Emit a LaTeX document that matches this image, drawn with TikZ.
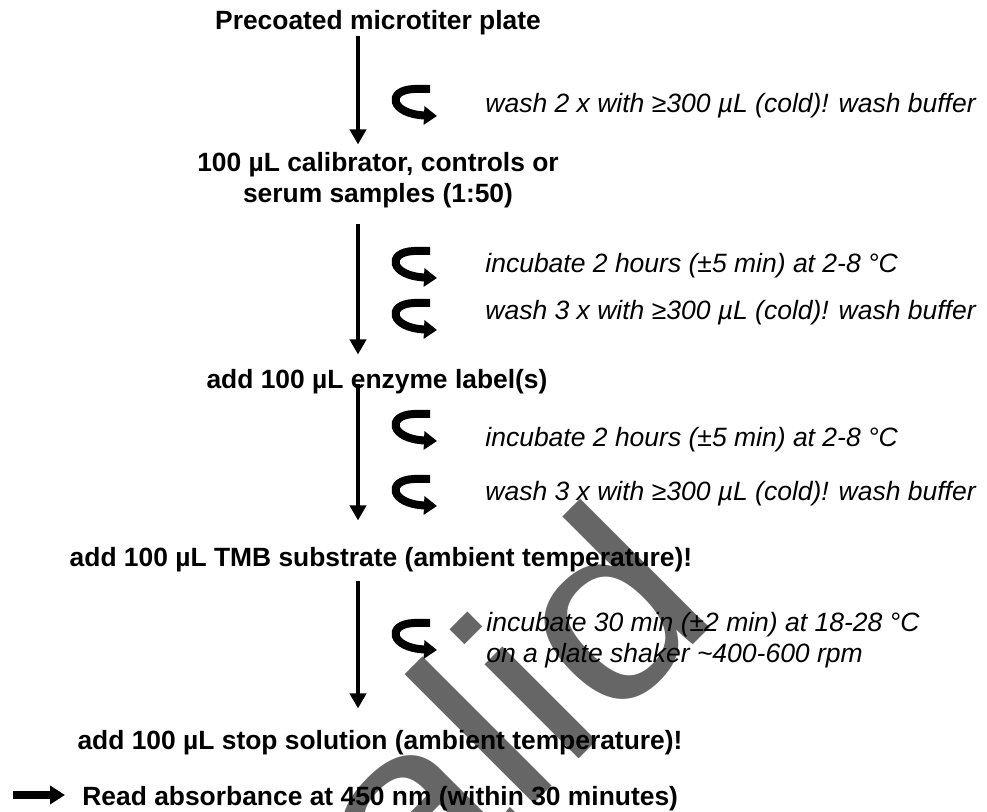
\documentclass[tikz,border=0pt]{standalone}
\usepackage{fontspec}
\setmainfont{Liberation Sans}
\newfontfamily\wmfont[FakeStretch=1.14]{Liberation Sans}
\usepackage{tikz}
\usetikzlibrary{arrows.meta}
\definecolor{wmgray}{HTML}{666666}

\begin{document}
\begin{tikzpicture}[x=0.5pt,y=-0.5pt,
		rotarrow/.pic={\draw[line width=4pt,-{Triangle[length=6.5pt,width=9pt]}] (14,-14) -- (-2,-14) .. controls (-30,-13) and (-26,11) .. (21,13);}]
	\useasboundingbox (0,0) rectangle (987,812);
	\clip (0,0) rectangle (987,812);

	\node[anchor=base west,rotate=45,inner sep=0pt,text=wmgray,font=\wmfont\fontsize{126}{126}\selectfont] (invalid) at (136.6,1201.6) {Invalid};

	\begin{scope}[every node/.style={font=\bfseries\fontsize{13.2}{15.5}\selectfont,inner sep=0pt,anchor=base,align=center}]
		\node (plate) at (378,30) {Precoated microtiter plate};
		\node (sample) at (378,203) {100 µL calibrator, controls or\\serum samples (1:50)};
		\node (enzyme) at (377,389) {add 100 µL enzyme label(s)};
		\node (tmb) at (381,567) {add 100 µL TMB substrate (ambient temperature)!};
		\node (stop) at (380,750) {add 100 µL stop solution (ambient temperature)!};
		\node[anchor=base west] (read) at (82,806) {Read absorbance at 450 nm (within 30 minutes)};
	\end{scope}

	\begin{scope}[every node/.style={font=\itshape\fontsize{13.25}{15.5}\selectfont,inner sep=0pt,anchor=base west,align=left}]
		\node (wash1) at (485,113) {wash 2 x with ≥300 µL (cold)! wash buffer};
		\node (incub1) at (485,273) {incubate 2 hours (±5 min) at 2-8 °C};
		\node (wash2) at (485,320) {wash 3 x with ≥300 µL (cold)! wash buffer};
		\node (incub2) at (485,447) {incubate 2 hours (±5 min) at 2-8 °C};
		\node (wash3) at (485,501) {wash 3 x with ≥300 µL (cold)! wash buffer};
		\node (incub3) at (486,663) {incubate 30 min (±2 min) at 18-28 °C\\on a plate shaker \textasciitilde400-600 rpm};
	\end{scope}

	\pic at (416,103) {rotarrow};
	\pic at (416,265) {rotarrow};
	\pic at (416,317) {rotarrow};
	\pic at (416,428) {rotarrow};
	\pic at (416,493) {rotarrow};
	\pic at (416,637) {rotarrow};

	\coordinate (axis) at (358,0);
	\coordinate (readstart) at (13,795);
	\begin{scope}[flow/.style={line width=2pt,-{Triangle[length=7.5pt,width=8pt]}}]
		\path [flow] (plate.south -| axis) edge[shorten >=4pt] (sample.north -| axis);
		\path [flow] (sample.south -| axis) edge[shorten <=7.75pt,shorten >=7.5pt] (enzyme.north -| axis);
		\path [flow] (enzyme.south -| axis) edge[shorten <=-5.25pt,shorten >=13.5pt] (tmb.north -| axis);
		\path [flow] (tmb.south -| axis) edge[shorten <=4.25pt,shorten >=11pt] (stop.north -| axis);
		\path [line width=4pt,-{Triangle[length=7.5pt,width=9pt]}] (readstart) edge[shorten >=8.5pt] (readstart -| read.west);
	\end{scope}
\end{tikzpicture}
\end{document}
